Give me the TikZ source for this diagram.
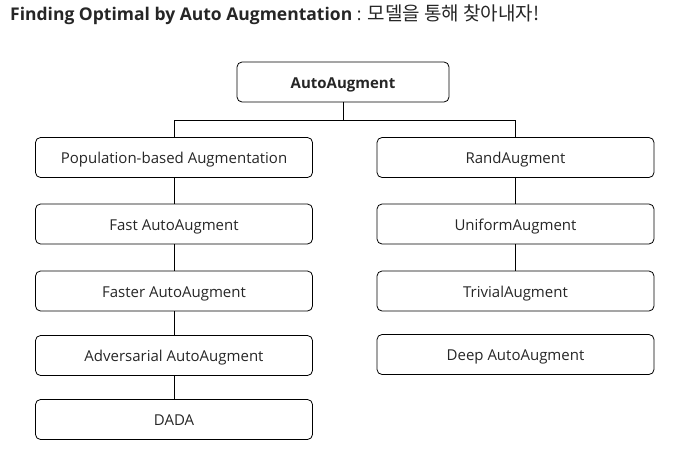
\documentclass[tikz,border=0pt]{standalone}
\usepackage{fontspec}
\setmainfont{Open Sans}
\newfontfamily\krfont{Noto Sans CJK KR}
\tikzset{
  method/.style={draw, rounded corners=5pt, line width=0.8pt,
    minimum width=277pt, minimum height=40pt, inner sep=0pt,
    text height=14pt, text depth=1.3pt,
    text=black!85, font=\fontsize{15}{18}\selectfont},
  root/.style={method, minimum width=212pt, font=\fontsize{15}{18}\selectfont\bfseries},
}
\begin{document}
\begin{tikzpicture}[x=1pt,y=-1pt]
  \useasboundingbox (0,0) rectangle (686,458);
  \node[anchor=base west, inner sep=0pt, text=black!85] (title) at (10,20)
    {\fontsize{17.5}{20}\selectfont\textbf{Finding Optimal by Auto Augmentation} : {\krfont\fontsize{19}{20}\selectfont 모델을 통해 찾아내자!}};
  \draw
    (343,82) node[root] (auto){AutoAugment}
    (174,157.5) node[method] (pba){Population-based Augmentation}
    (174,224) node[method] (fast){Fast AutoAugment}
    (174,291) node[method] (faster){Faster AutoAugment}
    (174,355.5) node[method] (adv){Adversarial AutoAugment}
    (174,419.5) node[method] (dada){DADA}
    (515.5,157.5) node[method] (rand){RandAugment}
    (515.5,224) node[method] (uniform){UniformAugment}
    (515.5,291) node[method] (trivial){TrivialAugment}
    (515.5,354.5) node[method] (deep){Deep AutoAugment};
  \coordinate (split) at (343,120);
  \begin{scope}[-, line width=0.8pt]
    \draw (auto) to (split);
    \draw (split) -| (pba);
    \draw (split) -| (rand);
    \draw (pba) to (fast);
    \draw (fast) to (faster);
    \draw (faster) to (adv);
    \draw (adv) to (dada);
    \draw (rand) to (uniform);
    \draw (uniform) to (trivial);
  \end{scope}
\end{tikzpicture}
\end{document}
